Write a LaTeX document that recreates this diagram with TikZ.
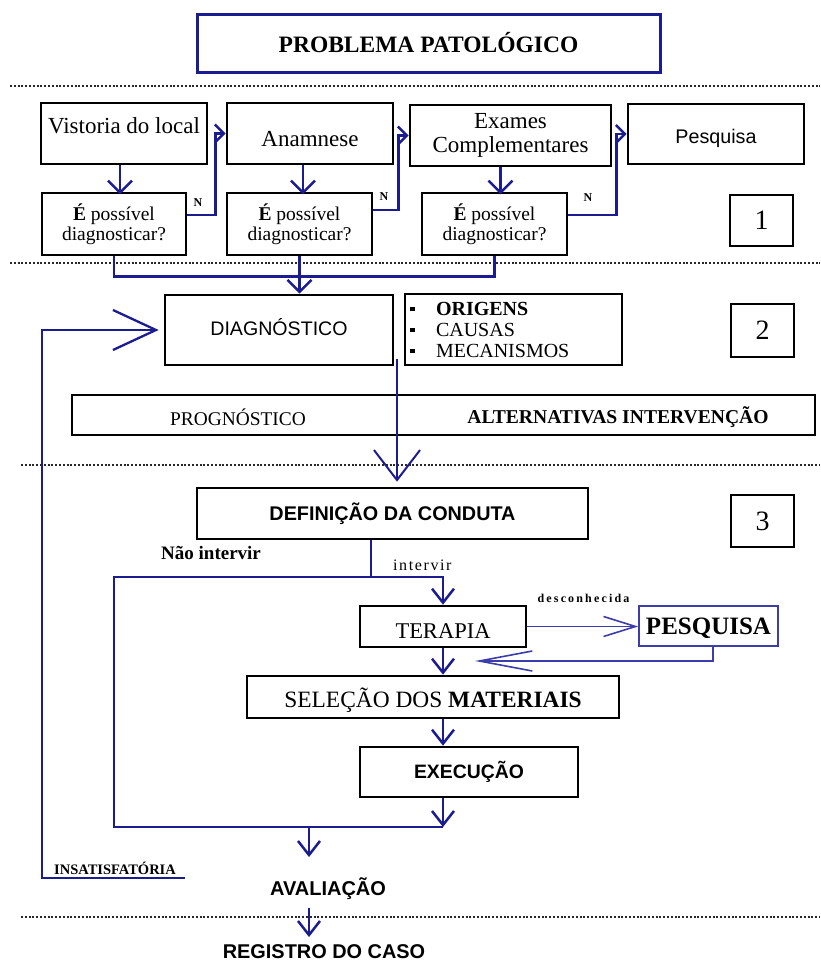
\documentclass[tikz,border=0pt]{standalone}
\usepackage{fontspec}
\setmainfont{Liberation Serif}
\setsansfont{Liberation Sans}
\usetikzlibrary{arrows.meta}
\definecolor{navy}{RGB}{28,28,145}
\definecolor{softnavy}{RGB}{60,60,170}
\definecolor{dots}{RGB}{40,40,40}
% keep the declared size of a label while moving its ink up or down
\newcommand\vmove[2]{\raisebox{#1}[\height][\depth]{#2}}
\newcommand\bul{\makebox[26pt][l]{\rule[4pt]{4.5pt}{4.5pt}}}
\tikzset{
  box/.style={draw=black, line width=2.6pt, rectangle, inner sep=0pt},
  qbox/.style={box, minimum height=62pt, align=center, font=\fontsize{19.5}{20}\selectfont},
  numbox/.style={box, line width=2.5pt, minimum width=63pt, font=\fontsize{28}{30}\selectfont},
  lbl/.style={inner sep=0pt},
  conn/.style={draw=navy, line width=2.5pt},
  thinconn/.style={draw=softnavy, line width=1.6pt},
  sep/.style={draw=dots, line width=2.6pt, dash pattern=on 2pt off 1.8pt},
  tipS/.style={-{Straight Barb[length=12pt,width=24pt]}},
  tipN/.style={-{Straight Barb[length=9pt,width=18pt]}},
  tipM/.style={-{Straight Barb[length=14pt,width=22pt]}},
  tipBig/.style={-{Straight Barb[length=43pt,width=40pt]}},
  tipDown/.style={-{Straight Barb[length=30pt,width=46pt]}},
  tipR/.style={-{Straight Barb[length=32pt,width=20pt]}},
  tipRet/.style={-{Straight Barb[length=53pt,width=20pt]}},
}
\begin{document}
\begin{tikzpicture}[x=1pt,y=-1pt]
\useasboundingbox (0,0) rectangle (820,964);

% title
\node[box, draw=navy, line width=3pt, minimum width=463pt, minimum height=58pt,
      font=\bfseries\fontsize{23.5}{26}\selectfont] (prob) at (428.5,43) {PROBLEMA PATOLÓGICO};

% section separators
\draw[sep] (10,86) -- (820,86);
\draw[sep] (10,263) -- (820,263);
\draw[sep] (21,465) -- (820,465);
\draw[sep] (21,917) -- (820,917);

% stage 1: investigation
\node[box, minimum width=166pt, minimum height=61pt, font=\fontsize{23}{26}\selectfont]
  (vist) at (124,133.5) {\vmove{8pt}{Vistoria do local}};
\node[box, minimum width=166pt, minimum height=61pt, font=\fontsize{23}{26}\selectfont]
  (anam) at (310,133.5) {\vmove{-6pt}{Anamnese}};
\node[box, minimum width=201pt, minimum height=61pt, align=center, font=\fontsize{23}{24}\selectfont]
  (exam) at (510.5,135.5) {Exames\\Complementares};
\node[box, minimum width=176pt, minimum height=60pt, font=\sffamily\fontsize{19.7}{22}\selectfont]
  (pesq1) at (716,134) {\vmove{-4pt}{Pesquisa}};

\node[qbox, minimum width=144pt] (d1) at (114,224) {\textbf{É} possível\\diagnosticar?};
\node[qbox, minimum width=145pt] (d2) at (299.5,224) {\textbf{É} possível\\diagnosticar?};
\node[qbox, minimum width=145pt] (d3) at (494.5,224) {\textbf{É} possível\\diagnosticar?};
\node[numbox, minimum height=51pt] (one) at (761.5,220.5) {1};

\draw[conn, tipS] ([xshift=-4pt]vist.south) -- ++(0,29);
\draw[conn, tipS] ([xshift=-7pt]anam.south) -- ++(0,29);
\draw[conn, tipS] ([xshift=-10pt]exam.south) -- ++(0,27);

\draw[conn, tipN] ([yshift=9pt]d1.east) -| ([xshift=-10pt]anam.west) -- (anam.west);
\draw[conn, tipN] ([yshift=14pt]d2.east) -| ([xshift=-10pt]exam.west) -- (exam.west);
\draw[conn, tipN] ([yshift=9pt]d3.east) -| ([xshift=-10pt]pesq1.west) -- (pesq1.west);
\node[lbl, font=\bfseries\fontsize{12}{12}\selectfont] (n1) at (198,203) {N};
\node[lbl, font=\bfseries\fontsize{12}{12}\selectfont] (n2) at (384,197) {N};
\node[lbl, font=\bfseries\fontsize{12}{12}\selectfont] (n3) at (588,198) {N};

% stage 2: diagnosis
\node[box, minimum width=228pt, minimum height=70pt, font=\sffamily\fontsize{19.6}{22}\selectfont]
  (diag) at (279,330) {\vmove{3pt}{DIAGNÓSTICO}};
\node[box, minimum width=217pt, minimum height=71pt, text width=207pt, inner xsep=5pt, align=left,
      font=\fontsize{20}{21}\selectfont]
  (causes) at (513.5,329.5) {\bul\textbf{ORIGENS}\\\bul CAUSAS\\\bul MECANISMOS};
\node[numbox, minimum height=53pt] (two) at (762.5,330.5) {2};

\draw[conn] (d1.south) -- ++(0,20) -| (d3.south);
\draw[conn, tipS] (d2.south) -- (d2.south |- diag.north);

\node[box, minimum width=743pt, minimum height=40pt] (prog) at (443.5,415) {};
\node[lbl, font=\fontsize{19.4}{22}\selectfont] (progt) at (238,417) {PROGNÓSTICO};
\node[lbl, font=\bfseries\fontsize{19.6}{22}\selectfont] (altt) at (618,417) {ALTERNATIVAS INTERVENÇÃO};

% stage 3: intervention
\node[box, minimum width=391pt, minimum height=51pt, font=\sffamily\bfseries\fontsize{19.8}{22}\selectfont]
  (def) at (392.5,513.5) {DEFINIÇÃO DA CONDUTA};
\node[numbox, minimum height=52pt] (three) at (762.5,521) {3};

\coordinate (dstart) at (397,359);
\draw[conn, line width=2pt, tipDown, shorten >=5pt] (dstart) -- (dstart |- def.north);

\node[box, minimum width=166pt, minimum height=41pt, font=\fontsize{22.5}{24}\selectfont]
  (ter) at (443,626.5) {\vmove{-5pt}{TERAPIA}};
\node[box, draw=softnavy, line width=1.6pt, minimum width=139pt, minimum height=40pt,
      font=\bfseries\fontsize{25}{26}\selectfont]
  (pesq2) at (708.5,626) {\vmove{-2pt}{PESQUISA}};
\node[box, minimum width=372pt, minimum height=42pt, font=\fontsize{23.4}{25}\selectfont]
  (sel) at (433,697) {\vmove{-3pt}{SELEÇÃO DOS \textbf{MATERIAIS}}};
\node[box, minimum width=218pt, minimum height=50pt, font=\sffamily\bfseries\fontsize{19.4}{22}\selectfont]
  (exe) at (469,772) {EXECUÇÃO};

\node[lbl, anchor=west, font=\bfseries\fontsize{19}{20}\selectfont] (noint) at (161,553) {Não intervir};
\node[lbl, anchor=west, font=\fontsize{16}{18}\selectfont\addfontfeatures{LetterSpace=10}] (intv) at (393,565) {intervir};
\node[lbl, font=\bfseries\fontsize{12}{13}\selectfont\addfontfeatures{LetterSpace=18}] (desc) at (583.5,598) {desconhecida};

\coordinate (split) at (371,577);
\coordinate (leftTop) at (114,577);
\coordinate (leftBot) at (114,827);
\coordinate (merge) at (309,827);
\draw[conn] ([xshift=-21.5pt]def.south) -- (split);
\draw[conn] (split) -- (leftTop) -- (leftBot) -- (leftBot -| ter.south);
\draw[conn, tipM] (split) -| (ter.north);
\draw[conn, tipM] (ter.south) -- (ter.south |- sel.north);
\draw[conn, tipM] (ter.south |- sel.south) -- (ter.south |- exe.north);
\draw[conn, tipM] (ter.south |- exe.south) -- (ter.south |- leftBot);

\draw[thinconn, tipR] (ter.east) -- (ter.east -| pesq2.west);
\coordinate (retTip) at (475,661);
\draw[thinconn, tipRet] ([xshift=4.5pt]pesq2.south) |- (retTip);

% evaluation and feedback
\node[lbl, font=\sffamily\bfseries\fontsize{20}{22}\selectfont] (aval) at (328,889) {AVALIAÇÃO};
\node[lbl, font=\sffamily\bfseries\fontsize{19.9}{22}\selectfont] (reg) at (324,952) {REGISTRO DO CASO};
\coordinate (avalIn) at (309,857);
\coordinate (avalOut) at (309,908);
\coordinate (regIn) at (309,937);
\draw[conn, tipM] (merge) -- (avalIn);
\draw[conn, tipM] (avalOut) -- (regIn);

\node[lbl, anchor=west, font=\bfseries\fontsize{14.5}{15}\selectfont] (insat) at (54,868) {INSATISFATÓRIA};
\coordinate (fbEnd) at (185,878);
\coordinate (fbCorner) at (42,878);
\draw[conn, line width=2.3pt, tipBig, shorten >=5pt] (fbEnd) -- (fbCorner) |- (diag.west);
\end{tikzpicture}
\end{document}
